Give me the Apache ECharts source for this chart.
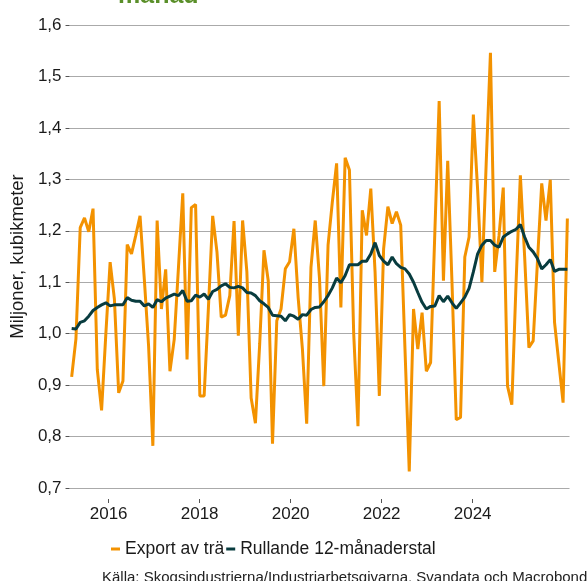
<!DOCTYPE html>
<html>
<head>
<meta charset="utf-8">
<title>Export av trä</title>
<script src="https://cdn.jsdelivr.net/npm/echarts@6/dist/echarts.min.js"></script>
<style>
  html, body { margin: 0; padding: 0; background: #fff; }
  #chart { width: 588px; height: 581px; }
</style>
</head>
<body>
<div id="chart"></div>
<script>
// månader jan 2015 - sep 2024
const months = []
for (let y = 2015; y <= 2024; y++) {
  for (let m = 1; m <= 12; m++) {
    if (y === 2024 && m > 9) break
    months.push(y + '-' + String(m).padStart(2, '0'))
  }
}

// Export av trä, miljoner kubikmeter
const exportTra = [
  0.916, 0.99, 1.206, 1.225, 1.198, 1.243, 0.93, 0.851, 1.0, 1.139, 1.067, 0.885,
  0.908, 1.173, 1.155, 1.191, 1.229, 1.106, 0.976, 0.782, 1.22, 1.048, 1.125, 0.927,
  0.989, 1.13, 1.273, 0.95, 1.245, 1.251, 0.879, 0.879, 1.05, 1.229, 1.159, 1.032,
  1.036, 1.074, 1.219, 0.996, 1.22, 1.12, 0.875, 0.826, 0.98, 1.162, 1.103, 0.786,
  1.025, 1.048, 1.126, 1.14, 1.204, 1.07, 0.97, 0.825, 1.129, 1.22, 1.107, 0.898,
  1.172, 1.256, 1.331, 1.051, 1.342, 1.318, 1.0, 0.82, 1.24, 1.191, 1.282, 1.12,
  0.879, 1.165, 1.247, 1.214, 1.237, 1.211, 0.97, 0.732, 1.048, 0.97, 1.041, 0.927,
  0.944, 1.2, 1.452, 1.103, 1.336, 1.1, 0.833, 0.837, 1.149, 1.188, 1.426, 1.28,
  1.1, 1.33, 1.546, 1.12, 1.19, 1.284, 0.898, 0.862, 1.1, 1.308, 1.15, 0.973,
  0.986, 1.14, 1.292, 1.22, 1.299, 1.022, 0.944, 0.866, 1.224
]

// Rullande 12-månaderstal
const rullande = [
  1.01, 1.009, 1.022, 1.025, 1.034, 1.045, 1.051, 1.056, 1.06, 1.054, 1.056, 1.056,
  1.056, 1.07, 1.065, 1.063, 1.063, 1.054, 1.058, 1.051, 1.066, 1.062, 1.069, 1.073,
  1.077, 1.074, 1.084, 1.063, 1.064, 1.075, 1.071, 1.077, 1.067, 1.082, 1.086, 1.093,
  1.097, 1.09, 1.089, 1.092, 1.089, 1.08, 1.079, 1.074, 1.064, 1.058, 1.051, 1.036,
  1.035, 1.034, 1.025, 1.037, 1.034, 1.028, 1.037, 1.036, 1.047, 1.051, 1.052, 1.062,
  1.074, 1.089, 1.108, 1.099, 1.113, 1.134, 1.134, 1.134, 1.141, 1.141, 1.155, 1.177,
  1.152, 1.141, 1.134, 1.149, 1.136, 1.129, 1.126, 1.116, 1.1, 1.08, 1.061, 1.048,
  1.053, 1.054, 1.074, 1.062, 1.073, 1.06, 1.049, 1.06, 1.071, 1.088, 1.12, 1.155,
  1.172, 1.181, 1.181, 1.172, 1.168, 1.188, 1.194, 1.199, 1.203, 1.212, 1.188, 1.168,
  1.159, 1.146, 1.126, 1.134, 1.144, 1.121, 1.125, 1.125, 1.125
]

const yearLabels = [2016, 2018, 2020, 2022, 2024]

const orange = '#f39200'
const darkTeal = '#083c3f'
const textColor = '#1a1a1a'

const chart = echarts.init(document.getElementById('chart'))

chart.setOption({
  animation: false,
  backgroundColor: '#fff',
  textStyle: { fontFamily: '"Liberation Sans", Arial, sans-serif' },
  title: {
    text: 'månad',
    left: 118,
    top: -16,
    padding: 0,
    textStyle: { fontSize: 25, fontWeight: 'bold', color: '#5a8f29' }
  },
  legend: {
    left: 106,
    top: 535,
    icon: 'rect',
    itemWidth: 9,
    itemHeight: 3,
    itemGap: 2,
    textStyle: { fontSize: 17.5, color: textColor },
    data: ['Export av trä', 'Rullande 12-månaderstal']
  },
  grid: { left: 67, right: 18.5, top: 25, bottom: 93 },
  xAxis: [
    {
      type: 'category',
      data: months,
      boundaryGap: true,
      show: false
    },
    {
      // bara årsetiketterna
      type: 'value',
      position: 'bottom',
      offset: 11,
      min: 2015.14,
      max: 2026.129,
      axisLine: { show: false },
      axisTick: { show: true, length: 4, customValues: yearLabels, lineStyle: { color: '#555' } },
      axisLabel: {
        customValues: yearLabels,
        margin: 7,
        fontSize: 17,
        color: textColor,
        formatter: v => String(v)
      },
      splitLine: { show: false }
    }
  ],
  yAxis: {
    type: 'value',
    min: 0.7,
    max: 1.6,
    interval: 0.1,
    name: 'Miljoner, kubikmeter',
    nameLocation: 'middle',
    nameGap: 42,
    nameTextStyle: { fontSize: 18.5, color: textColor },
    axisLine: { show: false },
    axisTick: { show: true, length: 4, lineStyle: { color: '#555' } },
    axisLabel: {
      fontSize: 17,
      color: textColor,
      margin: 8,
      formatter: v => v.toFixed(1).replace('.', ',')
    },
    splitLine: { lineStyle: { color: '#aaa', width: 1.2 } }
  },
  series: [
    {
      name: 'Export av trä',
      type: 'line',
      xAxisIndex: 0,
      data: exportTra,
      symbol: 'none',
      itemStyle: { color: orange },
      lineStyle: { color: orange, width: 3 }
    },
    {
      name: 'Rullande 12-månaderstal',
      type: 'line',
      xAxisIndex: 0,
      data: rullande,
      symbol: 'none',
      itemStyle: { color: darkTeal },
      lineStyle: { color: darkTeal, width: 3 }
    }
  ],
  graphic: [
    {
      type: 'text',
      left: 102,
      top: 570,
      style: {
        text: 'Källa: Skogsindustrierna/Industriarbetsgivarna, Svandata och Macrobond',
        fontSize: 15,
        fill: '#222',
        fontFamily: '"Liberation Sans", Arial, sans-serif'
      }
    }
  ]
})
</script>
</body>
</html>
